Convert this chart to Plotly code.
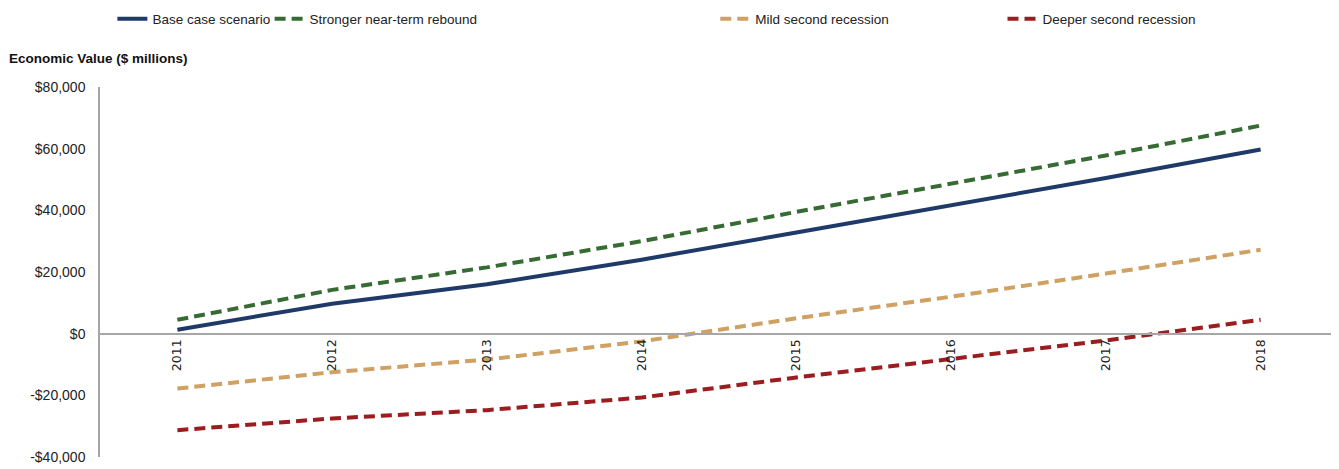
import plotly.graph_objects as go

years = ["2011", "2012", "2013", "2014", "2015", "2016", "2017", "2018"]
base_case = [1300, 9700, 16000, 24000, 32800, 41500, 50500, 59700]
stronger_rebound = [4500, 14200, 21500, 30000, 39500, 48500, 57800, 67500]
mild_recession = [-17800, -12500, -8400, -2500, 5000, 12000, 19500, 27200]
deeper_recession = [-31300, -27500, -24800, -20700, -14200, -8300, -2200, 4500]

series_names = ["Base case scenario", "Stronger near-term rebound",
                "Mild second recession", "Deeper second recession"]
y_tick_vals = [-40000, -20000, 0, 20000, 40000, 60000, 80000]
y_tick_text = ["-$40,000", "-$20,000", "$0", "$20,000", "$40,000", "$60,000", "$80,000"]

FONT = "Liberation Sans, Arial, sans-serif"

colors = ["#1f3a68", "#376b34", "#cfa163", "#9b1d20"]
dashes = ["solid", "11px,6px", "11px,6px", "11px,6px"]
data = [base_case, stronger_rebound, mild_recession, deeper_recession]
legends = ["legend", "legend2", "legend3", "legend4"]
legend_x = [0.010, 0.137, 0.497, 0.729]

fig = go.Figure()
for name, vals, c, d, lg in zip(series_names, data, colors, dashes, legends):
    fig.add_trace(go.Scatter(
        x=years, y=vals, mode="lines", name=name,
        line=dict(color=c, width=4, dash=d),
        legend=lg,
    ))

legend_common = dict(orientation="h", yanchor="middle", y=1.184, xanchor="left",
                     font=dict(family=FONT, size=13.5, color="#222"),
                     bgcolor="rgba(0,0,0,0)")
layout_legends = {}
for lg, lx in zip(legends, legend_x):
    layout_legends[lg] = dict(legend_common, x=lx)

fig.update_layout(
    width=1331, height=461,
    margin=dict(l=92, r=1, t=79, b=12, autoexpand=False),
    paper_bgcolor="white", plot_bgcolor="white",
    showlegend=True,
    font=dict(family=FONT, size=14, color="#222"),
    **layout_legends,
)

fig.update_xaxes(
    type="category", range=[-0.5, 7.5],
    anchor="free", position=1/3,
    showline=True, linecolor="#a6a6a6", linewidth=1.5,
    showgrid=False, zeroline=False,
    tickangle=-90, ticks="",
    ticklabelstandoff=0,
    tickfont=dict(family="DejaVu Sans, sans-serif", size=12.5, color="#222"),
)
fig.update_yaxes(
    range=[-40000, 80000],
    tickvals=y_tick_vals, ticktext=y_tick_text,
    showline=True, linecolor="#a6a6a6", linewidth=1.5,
    showgrid=False, zeroline=False, ticks="",
    ticklabelstandoff=10,
    tickfont=dict(family=FONT, size=14, color="#222"),
)

fig.add_annotation(
    text="<b>Economic Value ($ millions)</b>",
    xref="paper", yref="paper", x=-0.075, y=1.076,
    xanchor="left", yanchor="middle", showarrow=False,
    font=dict(family=FONT, size=13.5, color="#111"),
)

fig.write_html("out.html")
